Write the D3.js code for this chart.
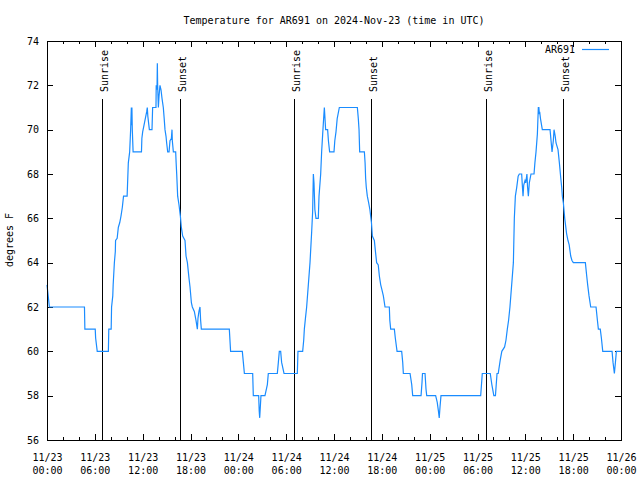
<!DOCTYPE html>
<html>
<head>
<meta charset="utf-8">
<script src="https://cdn.jsdelivr.net/npm/d3@7"></script>
<style>
  html, body { margin: 0; padding: 0; background: #fff; }
  svg { display: block; }
  text { font-family: "DejaVu Sans Mono", "Liberation Mono", monospace; font-size: 10px; fill: #000; }
</style>
</head>
<body>
<svg id="chart" width="640" height="480"></svg>
<script>
// Hours since 2024-11-23 00:00 UTC and temperature (deg F), vertices
const hours = [
  0, 0.3, 4.7, 4.75, 6.05, 6.1, 6.3, 7.7, 7.75, 8.05, 8.1, 8.25, 8.3, 8.45, 8.57, 8.6, 8.8, 8.95, 9.12, 9.28,
  9.45, 9.6, 10.05, 10.1, 10.2, 10.37, 10.49, 10.58, 10.62, 10.65, 10.7, 10.8, 11.85, 11.9, 12.0, 12.17,
  12.33, 12.5, 12.58, 12.65, 12.84, 13.17, 13.25, 13.67, 13.7, 13.8, 13.84, 13.88, 13.97, 14.05, 14.17,
  14.3, 14.43, 14.59, 14.7, 14.8, 14.93, 15.01, 15.14, 15.31, 15.43, 15.6, 15.68, 15.72, 15.85, 16.14,
  16.2, 16.27, 16.39, 16.56, 16.73, 16.85, 17.02, 17.31, 17.44, 17.61, 17.81, 17.94, 18.11, 18.23, 18.48,
  18.69, 18.86, 18.94, 19.06, 19.19, 19.27, 19.36, 22.87, 23.03,
  24.5, 24.63, 24.76, 25.8, 25.88, 26.55, 26.62, 26.68, 26.76, 26.84, 27.34, 27.64, 27.76, 28.89, 29.02,
  29.14, 29.31, 29.43, 29.73, 31.4, 31.48, 32.07, 32.2, 32.28, 32.42, 32.57, 32.78, 32.99, 33.2, 33.32,
  33.41, 33.49, 33.6, 33.74, 34.03, 34.12, 34.33, 34.45, 34.58, 34.7, 34.79, 34.87, 34.95, 35.2, 35.3,
  35.45, 36.0, 36.1, 36.25, 36.4, 36.67, 38.93, 39.05, 39.14, 39.22, 39.81, 39.9, 39.97, 40.05, 40.18,
  40.35, 40.5, 40.6, 40.7, 40.81, 41.06, 41.2, 41.35, 41.55, 41.69, 41.86, 42.0, 42.19, 42.4, 42.94,
  43.0, 43.11, 43.57, 43.69, 43.91, 44.49, 44.62, 44.7, 45.54, 45.75, 45.87, 46.92, 47.04, 47.1, 47.16,
  47.42, 47.54, 47.63, 48.75, 48.95, 49.1, 49.2, 49.3, 49.42,
  54.4, 54.6, 55.6, 55.8, 56.05, 56.25, 56.45, 56.6, 56.85, 57.05, 57.4, 57.57, 57.74, 57.9, 58.07, 58.33,
  58.5, 58.62, 58.75, 58.92, 59.1, 59.25, 59.54, 59.62, 59.71, 59.8, 59.96, 60.05, 60.2, 60.28, 60.38,
  60.5, 60.71, 61.09, 61.2, 61.34, 61.51, 61.55, 61.63, 61.7, 61.76, 61.8, 61.9, 62.13, 63.1, 63.35,
  63.51, 63.6, 63.75, 63.85, 64.1, 64.27, 64.45, 64.56, 64.64, 64.77, 64.94, 65.18, 65.35, 65.5, 65.69,
  65.85, 66.02, 67.53, 67.7, 67.82, 67.99, 68.2, 68.87, 69.04, 69.16, 69.4, 69.54, 69.71, 70.88, 71.0,
  71.17, 71.3, 71.42, 72
];
const tempF = [
  63, 62, 62, 61, 61, 60.6, 60, 60, 61, 61, 62, 62.5, 63, 64, 64.5, 65, 65.1, 65.6, 65.8, 66.1,
  66.5, 67, 67, 67.5, 68.5, 69, 70, 71, 70.2, 71, 70, 69, 69, 69.6, 69.9, 70.2,
  70.5, 70.8, 71, 70.6, 70, 70, 71, 71, 72, 71.8, 73, 72, 71, 71.5, 72,
  71.8, 71.4, 71, 70.5, 70, 69.7, 69.4, 69, 69, 69.5, 69.6, 70, 69.5, 69, 69,
  68.5, 68, 67, 66.6, 66.1, 65.6, 65.2, 65, 64.3, 64, 63.3, 62.9, 62.2, 62, 61.8,
  61.4, 61, 61.5, 61.8, 62, 61.4, 61, 61, 60,
  60, 59.5, 59, 59, 58, 58, 57.3, 57, 57.5, 58, 58, 58.5, 59, 59, 59.5,
  60, 60, 59.5, 59, 59, 60, 60, 60.5, 61, 61.5, 62, 63, 64, 65.4, 66.3,
  68, 67.6, 66.4, 66, 66, 67, 68, 69, 69.8, 70.5, 71, 70.5, 70, 70, 69.5,
  69, 69, 69.5, 69.9, 70.5, 71, 71, 70.5, 70, 69, 69, 68.5, 67.8, 67.4, 67,
  66.7, 66.4, 66.1, 65.8, 65.2, 65, 64.5, 64, 63.9, 63.4, 63, 62.8, 62.5, 62, 62,
  61.4, 61, 61, 60.6, 60, 60, 59.5, 59, 59, 58.5, 58, 58, 58.6, 59, 59,
  59, 58.3, 58, 58, 57.7, 57.3, 57, 57.5, 58,
  58, 59, 59, 58.5, 58, 58, 59, 59, 59.6, 60, 60.2, 60.5, 61, 61.4, 62, 63.2,
  64, 66, 67, 67.4, 67.9, 68, 68, 67.5, 67, 67.5, 67.7, 67.6, 68, 67.4, 67,
  67.6, 68, 68, 68.5, 69, 69.8, 70.2, 71, 71, 70.7, 70.8, 70.5, 70, 70, 69,
  69.5, 70, 69.7, 69.4, 69.1, 68.5, 67.8, 67.4, 67, 66.7, 66, 65.3, 65, 64.8, 64.3,
  64.1, 64, 64, 63.4, 63, 62.5, 62, 62, 61.4, 61, 61, 60.6, 60, 60, 59.5,
  59, 59.5, 60, 60
];
const sunriseHours = [6.92, 31.0, 55.07];
const sunsetHours = [16.68, 40.65, 64.73];
const yTicks = [56, 58, 60, 62, 64, 66, 68, 70, 72, 74];
const xTickHours = [0, 6, 12, 18, 24, 30, 36, 42, 48, 54, 60, 66, 72];
const xTickDates = ["11/23","11/23","11/23","11/23","11/24","11/24","11/24","11/24","11/25","11/25","11/25","11/25","11/26"];
const xTickTimes = ["00:00","06:00","12:00","18:00","00:00","06:00","12:00","18:00","00:00","06:00","12:00","18:00","00:00"];
const xMinorHours = d3.range(0, 73, 2);
const seriesName = "AR691";
const titleText = "Temperature for AR691 on 2024-Nov-23 (time in UTC)";
const yLabel = "degrees F";

const svg = d3.select("#chart");
const L = 47, R = 621, T = 41, B = 440;
const x = d3.scaleLinear().domain([0, 72]).range([L, R]);
const y = d3.scaleLinear().domain([56, 74]).range([B, T]);

// title (centred over the plot area)
svg.append("text").attr("x", (L + R) / 2).attr("y", 24).attr("text-anchor", "middle").text(titleText);

// y label
svg.append("text").attr("transform", "translate(13,240) rotate(-90)")
  .attr("text-anchor", "middle").text(yLabel);

function styleAxis(g) {
  g.select(".domain").remove();
  g.selectAll("line").attr("stroke", "#000").attr("shape-rendering", "crispEdges");
  g.selectAll("text").attr("font-family", null).attr("font-size", null);
}

// left axis
svg.append("g").attr("transform", `translate(${L},0)`)
  .call(d3.axisLeft(y).tickValues(yTicks).tickSizeInner(-6).tickSizeOuter(0).tickPadding(8).tickFormat(d3.format("d")))
  .call(styleAxis);
// right axis mirror
svg.append("g").attr("transform", `translate(${R},0)`)
  .call(d3.axisRight(y).tickValues(yTicks).tickSizeInner(-6).tickSizeOuter(0).tickFormat(""))
  .call(styleAxis);

// bottom axis major
const bx = svg.append("g").attr("transform", `translate(0,${B})`)
  .call(d3.axisBottom(x).tickValues(xTickHours).tickSizeInner(-6).tickSizeOuter(0)
    .tickFormat((d, i) => xTickDates[i]))
  .call(styleAxis);
bx.selectAll(".tick text").attr("dy", null).attr("y", 21);
bx.selectAll(".tick").each(function(d, i) {
  d3.select(this).append("text").attr("y", 34).attr("fill", "#000").attr("text-anchor", "middle").text(xTickTimes[i]);
});
// bottom minor
svg.append("g").attr("transform", `translate(0,${B})`)
  .call(d3.axisBottom(x).tickValues(xMinorHours).tickSizeInner(-3).tickSizeOuter(0).tickFormat(""))
  .call(styleAxis);
// top mirror
svg.append("g").attr("transform", `translate(0,${T})`)
  .call(d3.axisTop(x).tickValues(xTickHours).tickSizeInner(-6).tickSizeOuter(0).tickFormat(""))
  .call(styleAxis);
svg.append("g").attr("transform", `translate(0,${T})`)
  .call(d3.axisTop(x).tickValues(xMinorHours).tickSizeInner(-3).tickSizeOuter(0).tickFormat(""))
  .call(styleAxis);

// sunrise / sunset markers
const markers = sunriseHours.map(h => ({h, label: "Sunrise"}))
  .concat(sunsetHours.map(h => ({h, label: "Sunset"})));
const mg = svg.append("g");
markers.forEach(m => {
  const px = Math.round(x(m.h)) + 0.5;
  mg.append("line").attr("x1", px).attr("x2", px).attr("y1", 99).attr("y2", B)
    .attr("stroke", "#000").attr("stroke-width", 1);
  mg.append("text").attr("transform", `translate(${px + 5},92) rotate(-90)`)
    .attr("text-anchor", "start").text(m.label);
});

// data line
const data = hours.map((h, i) => ({h, t: tempF[i]}));
const line = d3.line().x(d => x(d.h)).y(d => y(d.t)).curve(d3.curveLinear);
svg.append("path").datum(data).attr("d", line)
  .attr("fill", "none").attr("stroke", "#1a8cff").attr("stroke-width", 1.2)
  .attr("stroke-linejoin", "miter");

// border
svg.append("rect").attr("x", L + 0.5).attr("y", T + 0.5).attr("width", R - L).attr("height", B - T)
  .attr("fill", "none").attr("stroke", "#000").attr("stroke-width", 1);

// legend
svg.append("text").attr("x", 575).attr("y", 53).attr("text-anchor", "end").text(seriesName);
svg.append("line").attr("x1", 582).attr("x2", 609).attr("y1", 49.5).attr("y2", 49.5)
  .attr("stroke", "#1a8cff").attr("stroke-width", 1.2);
</script>
</body>
</html>
